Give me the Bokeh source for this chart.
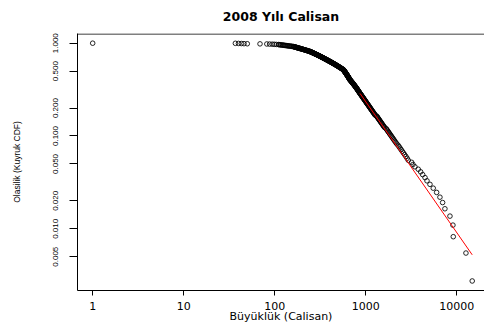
from bokeh.plotting import figure
from bokeh.models import Range1d, FixedTicker, NumeralTickFormatter, Span
from bokeh.embed import file_html
from bokeh.resources import INLINE

# Firm sizes (employees), 2008, sorted ascending
sizes = [
    1,
    37, 40, 43, 46, 50,
    69,
    82, 88, 94, 99, 104,
    110, 112, 115, 117, 120, 123, 125, 128, 131, 134, 137, 140, 143, 146, 150, 153, 156, 160,
    162, 163, 165, 167, 169, 171, 173, 175, 176, 178, 180, 182, 184, 186, 188, 190, 192, 195, 197, 199,
    201, 203, 205, 208, 210, 212, 215, 217, 219, 222, 224, 227, 229, 232, 234, 237, 239, 242, 245,
    246, 248, 250, 252, 254, 256, 258, 260, 262, 264, 266, 268, 270, 272, 274, 276, 279, 281, 283, 285,
    287, 290, 292, 294, 296, 299, 301, 303, 305, 308, 310, 313, 315, 317, 320, 322, 325, 327, 330, 332,
    335, 337, 340, 343, 345, 348, 351, 353, 356, 359, 362, 364, 367, 370, 373,
    376, 379, 382, 385, 388, 391, 394, 397, 401, 404, 407, 410, 414, 417, 420, 424, 427, 430, 434, 437,
    441, 444, 448, 451, 455, 459, 462, 466, 470, 474, 477, 481, 485, 489, 493, 497, 501, 505, 509, 513,
    517, 521, 525, 529, 534, 538, 542, 547, 551, 555, 560, 564, 569,
    571, 573, 576, 578, 580, 583, 585, 587, 590, 592, 594, 597, 599, 601, 604, 606, 609, 611, 613, 616,
    618, 621, 623, 626, 628, 631, 633, 636, 638, 641, 643, 646, 649, 651, 654, 656, 659, 662, 664, 667,
    670, 672,
    676, 681, 685, 689, 693, 697, 701, 706, 710, 714, 718, 723, 727, 732, 736, 740, 745, 749, 754, 758,
    763, 768, 772, 777, 782, 786, 791, 796, 801, 806, 810, 815, 820, 825, 830, 835, 840, 845, 851, 856,
    861, 866,
    874, 880, 886, 892, 898, 905, 911, 918, 925, 932, 939, 946, 953, 961, 968, 976, 984, 992, 1000, 1008,
    1017, 1025, 1034, 1043, 1053, 1062, 1072, 1082, 1092, 1102, 1113, 1124, 1134, 1146, 1157, 1169, 1182,
    1194, 1207, 1220, 1234, 1247, 1262, 1276,
    1317, 1333, 1349, 1366, 1383, 1400, 1419, 1438, 1458, 1478, 1499, 1521, 1543, 1567, 1590, 1616,
    1673, 1701, 1730, 1760, 1791, 1823, 1857, 1893, 1930, 1969, 2009, 2053, 2098, 2145, 2198,
    2272, 2329, 2390, 2455, 2524, 2599, 2679, 2765, 2857,
    2940, 3200, 3310, 3480, 3785, 4020, 4230, 4490, 4720, 5090, 5530, 6025, 6550, 7010, 7430, 8440,
    9100, 9180, 12650, 14825,
]

# Power-law fit parameters
fit_xmin = 866
fit_alpha = 2.41

x_ticks = [1, 10, 100, 1000, 10000]
y_ticks = [0.005, 0.01, 0.02, 0.05, 0.1, 0.2, 0.5, 1.0]

title_text = "2008 Yılı Calisan"
x_label = "Büyüklük (Calisan)"
y_label = "Olasilik (Kuyruk CDF)"

# Empirical tail CDF P(X >= x)
N = len(sizes)
tail_cdf = [(N - i) / N for i in range(N)]

fit_p0 = sum(1 for s in sizes if s >= fit_xmin) / N
fit_x = [fit_xmin, max(sizes)]
fit_y = [fit_p0 * (x / fit_xmin) ** (1 - fit_alpha) for x in fit_x]

y_top = 1.272
p = figure(
    width=484, height=336,
    x_axis_type="log", y_axis_type="log",
    x_range=Range1d(0.681, 20230), y_range=Range1d(0.002163, y_top),
    output_backend="svg", toolbar_location=None,
    min_border_left=77, min_border_right=0, min_border_top=33, min_border_bottom=46,
    title=title_text,
)
p.background_fill_color = "white"
p.border_fill_color = "white"
p.outline_line_color = None
p.grid.visible = False

p.title.align = "center"
p.title.vertical_align = "top"
p.title.text_font = "DejaVu Sans"
p.title.text_font_size = "12.5px"
p.title.text_font_style = "bold"
p.title.text_color = "black"
p.title.standoff = 16
p.title.offset = 2

p.scatter(sizes, tail_cdf, marker="circle", size=4.6, fill_color=None,
          line_color="black", line_width=0.85)
p.line(fit_x, fit_y, line_color="red", line_width=1)

# top edge of the box
p.add_layout(Span(location=y_top / 1.0125, dimension="width", line_color="black", line_width=1))

# bottom axis
xa = p.xaxis[0]
xa.ticker = FixedTicker(ticks=x_ticks, minor_ticks=[])
xa.formatter = NumeralTickFormatter(format="0")
xa.axis_label = x_label
xa.axis_line_color = "black"
xa.major_tick_in = 0
xa.major_tick_out = 5
xa.minor_tick_line_color = None
xa.major_label_standoff = 6
xa.major_label_text_font = "DejaVu Sans"
xa.major_label_text_font_size = "11px"
xa.major_label_text_color = "black"
xa.axis_label_text_font = "DejaVu Sans"
xa.axis_label_text_font_size = "11px"
xa.axis_label_text_font_style = "normal"
xa.axis_label_text_color = "black"
xa.axis_label_standoff = -3

# left axis
ya = p.yaxis[0]
ya.ticker = FixedTicker(ticks=y_ticks, minor_ticks=[])
ya.formatter = NumeralTickFormatter(format="0.000")
ya.axis_label = y_label
ya.axis_line_color = "black"
ya.major_tick_in = 0
ya.major_tick_out = 8
ya.minor_tick_line_color = None
ya.major_label_orientation = "vertical"
ya.major_label_standoff = 11
ya.major_label_text_font = "Liberation Sans"
ya.major_label_text_font_size = "8px"
ya.major_label_text_color = "black"
ya.axis_label_text_font = "Liberation Sans"
ya.axis_label_text_font_size = "8.5px"
ya.axis_label_text_font_style = "normal"
ya.axis_label_text_color = "black"
ya.axis_label_standoff = 29

open("out.html", "w").write(file_html(p, INLINE))
